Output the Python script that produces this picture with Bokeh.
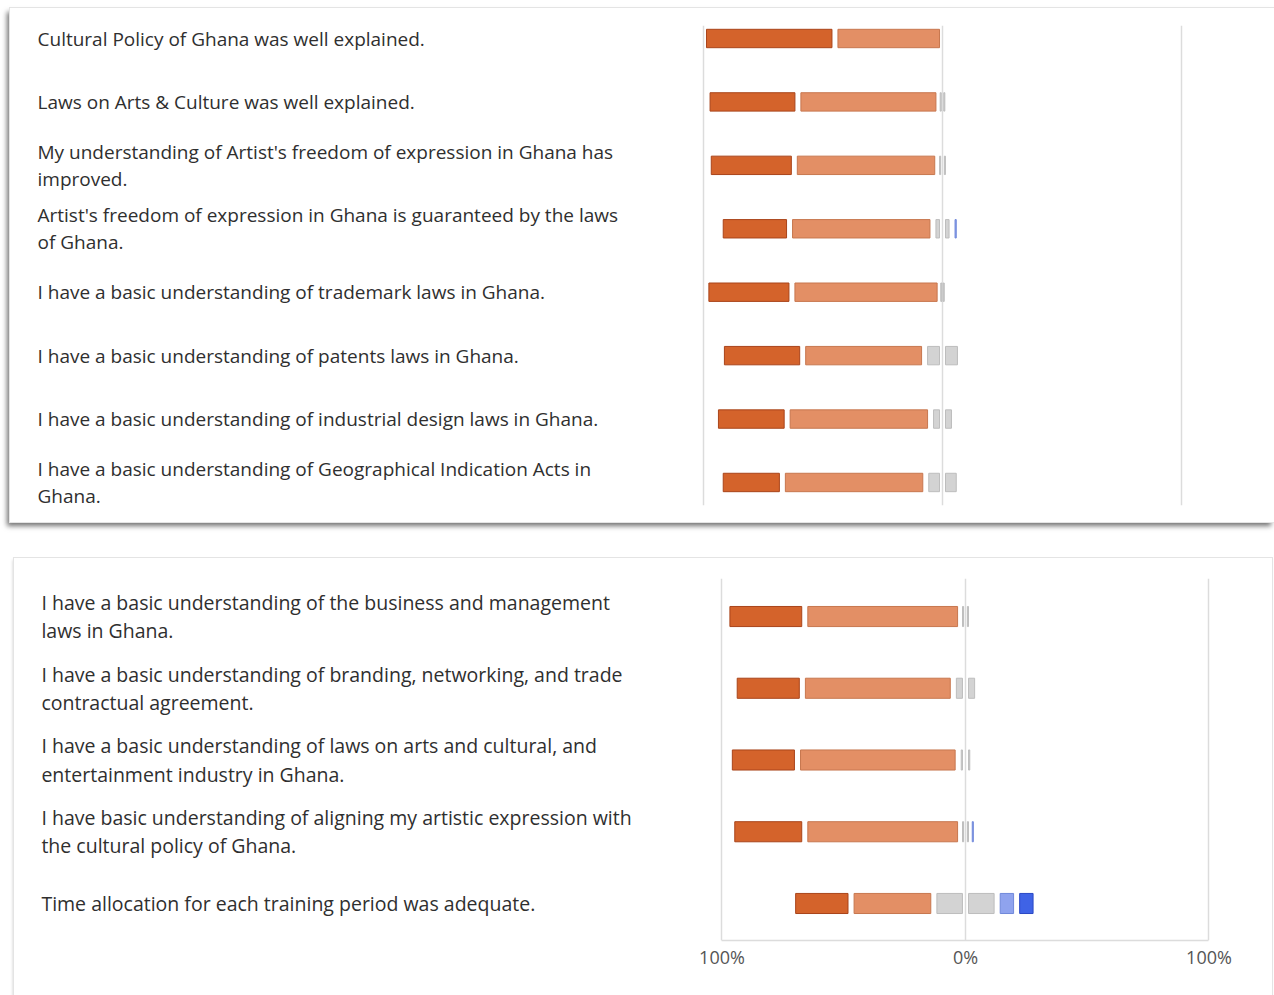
from bokeh.plotting import figure
from bokeh.layouts import column
from bokeh.models import ColumnDataSource, FixedTicker, Range1d
from bokeh.core.properties import value
from bokeh.embed import file_html
from bokeh.resources import INLINE

# ---------------- data ----------------
categories = ["Strongly agree", "Agree", "Neutral", "Disagree", "Strongly disagree"]
colors = ["#D4632B", "#E38F65", "#D3D3D3", "#8FA3EE", "#3F63E6"]
borders = ["#A9441A", "#C7774F", "#BDBDBD", "#7088DA", "#2A48C4"]

questions_top = [
    "Cultural Policy of Ghana was well explained.",
    "Laws on Arts & Culture was well explained.",
    "My understanding of Artist's freedom of expression in Ghana has\nimproved.",
    "Artist's freedom of expression in Ghana is guaranteed by the laws\nof Ghana.",
    "I have a basic understanding of trademark laws in Ghana.",
    "I have a basic understanding of patents laws in Ghana.",
    "I have a basic understanding of industrial design laws in Ghana.",
    "I have a basic understanding of Geographical Indication Acts in\nGhana.",
]
strongly_agree_top = [55, 38, 36, 29, 36, 34, 30, 26]
agree_top = [45, 59, 60, 60, 62, 51, 60, 60]
neutral_top = [0, 3, 4, 8, 2, 15, 10, 14]
disagree_top = [0, 0, 0, 3, 0, 0, 0, 0]
strongly_disagree_top = [0, 0, 0, 0, 0, 0, 0, 0]

questions_bottom = [
    "I have a basic understanding of the business and management\nlaws in Ghana.",
    "I have a basic understanding of branding, networking, and trade\ncontractual agreement.",
    "I have a basic understanding of laws on arts and cultural, and\nentertainment industry in Ghana.",
    "I have basic understanding of aligning my artistic expression with\nthe cultural policy of Ghana.",
    "Time allocation for each training period was adequate.",
]
strongly_agree_bottom = [32, 28, 28, 30, 24]
agree_bottom = [64, 62, 66, 64, 34]
neutral_bottom = [4, 10, 6, 4, 26]
disagree_bottom = [0, 0, 0, 2, 8]
strongly_disagree_bottom = [0, 0, 0, 0, 8]

tick_values = [-100, 0, 100]
tick_labels = {-100: "100%", 0: "0%", 100: "100%"}

FONT = "Open Sans"


def segments(sa, a, n, d, sd, gap, bar_h):
    """Build diverging stacked segments (neutral split around 0)."""
    rows = dict(y=[], left=[], right=[], fill=[], line=[], h=[])
    for i in range(len(sa)):
        start = -(sa[i] + a[i] + n[i] / 2.0)
        parts = [(sa[i], 0), (a[i], 1), (n[i] / 2.0, 2), (n[i] / 2.0, 2), (d[i], 3), (sd[i], 4)]
        pos = start
        for w, c in parts:
            if w <= 0:
                continue
            s, e = pos, pos + w
            pos = e
            vs, ve = s + gap, e - gap
            if ve - vs < 0.45:
                mid = (s + e) / 2.0
                vs, ve = mid - 0.22, mid + 0.22
            rows["y"].append(i)
            rows["left"].append(vs)
            rows["right"].append(ve)
            rows["fill"].append(colors[c])
            rows["line"].append(borders[c])
            rows["h"].append(bar_h)
    return ColumnDataSource(rows)


def make_panel(questions, sa, a, n, d, sd, width, height, xr, yr, mb_top, mb_bottom,
               label_x, font_size, line_h, bar_h, show_axis):
    p = figure(width=width, height=height, x_range=Range1d(*xr), y_range=Range1d(*yr),
               output_backend="svg", toolbar_location=None,
               min_border_left=0, min_border_right=0,
               min_border_top=mb_top, min_border_bottom=mb_bottom)
    p.outline_line_color = None
    p.background_fill_color = "white"
    p.border_fill_color = "white"
    p.ygrid.visible = False
    p.xgrid.ticker = FixedTicker(ticks=tick_values)
    p.xgrid.grid_line_color = "#DCDCDC"
    p.xgrid.grid_line_width = 1.5
    p.yaxis.visible = False
    if show_axis:
        ax = p.xaxis[0]
        ax.ticker = FixedTicker(ticks=tick_values)
        ax.major_label_overrides = tick_labels
        ax.bounds = (-100, 100)
        ax.axis_line_color = "#DCDCDC"
        ax.axis_line_width = 1.5
        ax.major_tick_line_color = None
        ax.minor_tick_line_color = None
        ax.major_tick_out = 0
        ax.major_tick_in = 0
        ax.minor_tick_out = 0
        ax.major_label_text_font = FONT
        ax.major_label_text_font_size = "18px"
        ax.major_label_text_color = "#555555"
        ax.major_label_standoff = 4
    else:
        p.xaxis.visible = False

    src = segments(sa, a, n, d, sd, 1.25, bar_h)
    p.hbar(y="y", left="left", right="right", height="h", source=src,
           fill_color="fill", line_color="line", line_width=1)

    lab = ColumnDataSource(dict(x=[label_x] * len(questions), y=list(range(len(questions))),
                                t=questions))
    p.text(x="x", y="y", text="t", source=lab, text_font=value(FONT),
           text_font_size=font_size, text_color="#2F2F2F", text_align="left",
           text_baseline="middle", text_line_height=line_h)
    return p


# top panel: frame page x 10..1274, zero at 942, 239 px per 100 %
top = make_panel(questions_top, strongly_agree_top, agree_top, neutral_top, disagree_top,
                 strongly_disagree_top, width=1264, height=514,
                 xr=(-389.96, 138.91), yr=(7.363, -0.205), mb_top=17, mb_bottom=17,
                 label_x=-378.66, font_size="19px", line_h=1.03, bar_h=0.29, show_axis=False)
top.margin = (8, 0, 0, 10)
top.styles = {"box-shadow": "0 0 0 1px #E4E4E4, -3px 4px 5px rgba(0,0,0,0.55)"}

# bottom panel: frame page x 14..1272, zero at 965, 243.5 px per 100 %
bottom = make_panel(questions_bottom, strongly_agree_bottom, agree_bottom, neutral_bottom,
                    disagree_bottom, strongly_disagree_bottom, width=1258, height=437,
                    xr=(-390.55, 126.08), yr=(4.516, -0.53), mb_top=20, mb_bottom=55,
                    label_x=-379.5, font_size="19.5px", line_h=1.05, bar_h=0.28, show_axis=True)
bottom.margin = (36, 0, 0, 14)
bottom.styles = {"box-shadow": "0 0 0 1px #E4E4E4, -1px 2px 3px rgba(0,0,0,0.2)"}

layout = column(top, bottom, spacing=0)
layout.margin = 0

open("out.html", "w").write(file_html(layout, INLINE))
